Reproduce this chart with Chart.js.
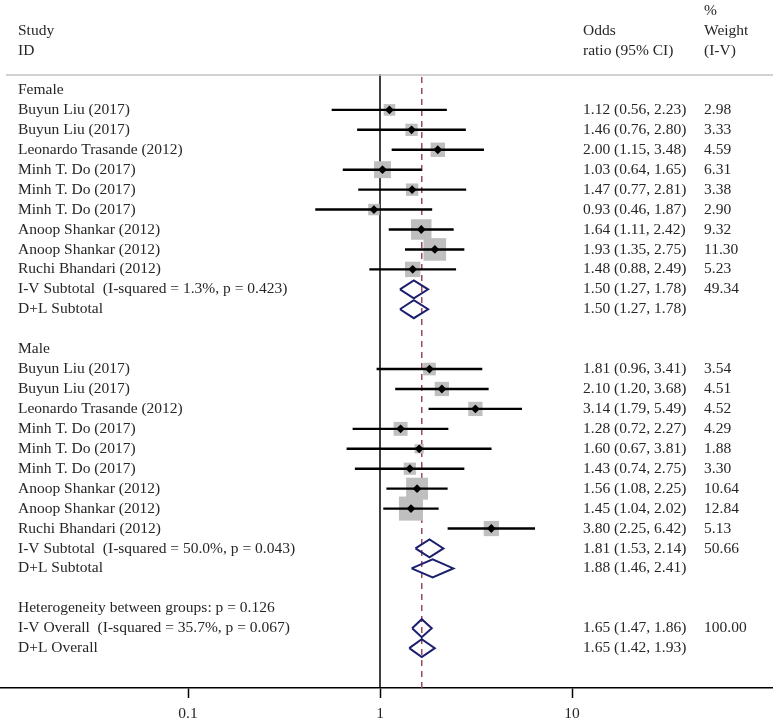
<!DOCTYPE html>
<html>
<head>
<meta charset="utf-8">
<script src="https://cdn.jsdelivr.net/npm/chart.js@4"></script>
<style>
  html, body { margin: 0; padding: 0; background: #fff; }
  canvas { display: block; }
</style>
</head>
<body>
<canvas id="forest" width="773" height="721"></canvas>
<script>
// study rows (same order in both groups)
var studyNames = ['Buyun Liu (2017)', 'Buyun Liu (2017)', 'Leonardo Trasande (2012)', 'Minh T. Do (2017)',
  'Minh T. Do (2017)', 'Minh T. Do (2017)', 'Anoop Shankar (2012)', 'Anoop Shankar (2012)', 'Ruchi Bhandari (2012)'];

var femaleOR = [1.12, 1.46, 2.00, 1.03, 1.47, 0.93, 1.64, 1.93, 1.48];
var femaleLo = [0.56, 0.76, 1.15, 0.64, 0.77, 0.46, 1.11, 1.35, 0.88];
var femaleHi = [2.23, 2.80, 3.48, 1.65, 2.81, 1.87, 2.42, 2.75, 2.49];
var femaleWt = [2.98, 3.33, 4.59, 6.31, 3.38, 2.90, 9.32, 11.30, 5.23];

var maleOR = [1.81, 2.10, 3.14, 1.28, 1.60, 1.43, 1.56, 1.45, 3.80];
var maleLo = [0.96, 1.20, 1.79, 0.72, 0.67, 0.74, 1.08, 1.04, 2.25];
var maleHi = [3.41, 3.68, 5.49, 2.27, 3.81, 2.75, 2.25, 2.02, 6.42];
var maleWt = [3.54, 4.51, 4.52, 4.29, 1.88, 3.30, 10.64, 12.84, 5.13];

// pooled estimates: female I-V, female D+L, male I-V, male D+L, overall I-V, overall D+L
var pooledLabels = ['I-V Subtotal  (I-squared = 1.3%, p = 0.423)', 'D+L Subtotal',
  'I-V Subtotal  (I-squared = 50.0%, p = 0.043)', 'D+L Subtotal',
  'I-V Overall  (I-squared = 35.7%, p = 0.067)', 'D+L Overall'];
var pooledOR = [1.50, 1.50, 1.81, 1.88, 1.65, 1.65];
var pooledLo = [1.27, 1.27, 1.53, 1.46, 1.47, 1.42];
var pooledHi = [1.78, 1.78, 2.14, 2.41, 1.86, 1.93];
var pooledWt = ['49.34', '', '50.66', '', '100.00', ''];

var groupNames = ['Female', 'Male'];
var heterogeneity = 'Heterogeneity between groups: p = 0.126';
var overallOR = 1.65;

var tickValues = [0.1, 1, 10];
var tickLabels = ['0.1', '1', '10'];

// row layout
var femaleRows = [1, 2, 3, 4, 5, 6, 7, 8, 9];
var maleRows = [14, 15, 16, 17, 18, 19, 20, 21, 22];
var pooledRows = [10, 11, 23, 24, 27, 28];
var groupRows = [0, 13];
var hetRow = 26;

var FONT = '15.5px "Liberation Serif"';
var TEXT = '#262626';
var NAVY = '#1c1f6e';

function fmt(v) { return v.toFixed(2); }

var allOR = femaleOR.concat(maleOR);
var allLo = femaleLo.concat(maleLo);
var allHi = femaleHi.concat(maleHi);
var allWt = femaleWt.concat(maleWt);
var allRows = femaleRows.concat(maleRows);

var pts = [], ciLine = [], diamonds = [];
for (var i = 0; i < allOR.length; i++) {
  pts.push({ x: allOR[i], y: allRows[i] });
  ciLine.push({ x: allLo[i], y: allRows[i] }, { x: allHi[i], y: allRows[i] }, { x: allHi[i], y: null });
}
for (var j = 0; j < pooledOR.length; j++) {
  var r = pooledRows[j];
  diamonds.push({ x: pooledLo[j], y: r }, { x: pooledOR[j], y: r - 0.45 }, { x: pooledHi[j], y: r },
    { x: pooledOR[j], y: r + 0.45 }, { x: pooledLo[j], y: r }, { x: pooledLo[j], y: null });
}

var textPlugin = {
  id: 'forest_text',
  afterDraw: function (chart) {
    var ctx = chart.ctx;
    var ys = chart.scales.y;
    var area = chart.chartArea;
    ctx.save();

    // header rule
    ctx.strokeStyle = '#c2c2c2';
    ctx.lineWidth = 1.5;
    ctx.beginPath();
    ctx.moveTo(6, area.top);
    ctx.lineTo(chart.width, area.top);
    ctx.stroke();

    ctx.font = FONT;
    ctx.fillStyle = TEXT;
    ctx.textBaseline = 'middle';
    ctx.textAlign = 'left';
    var L = 18, C = 583, W = 704;
    function row(r) { return ys.getPixelForValue(r); }

    ctx.fillText('Study', L, row(-2.95));
    ctx.fillText('ID', L, row(-1.98));
    ctx.fillText('Odds', C, row(-2.95));
    ctx.fillText('ratio (95% CI)', C, row(-1.98));
    ctx.fillText('%', W, row(-3.95));
    ctx.fillText('Weight', W, row(-2.95));
    ctx.fillText('(I-V)', W, row(-1.98));

    groupNames.forEach(function (g, k) { ctx.fillText(g, L, row(groupRows[k])); });
    for (var i = 0; i < allOR.length; i++) {
      var y = row(allRows[i]);
      ctx.fillText(studyNames[i % studyNames.length], L, y);
      ctx.fillText(fmt(allOR[i]) + ' (' + fmt(allLo[i]) + ', ' + fmt(allHi[i]) + ')', C, y);
      ctx.fillText(allWt[i].toFixed(2), W, y);
    }
    for (var j = 0; j < pooledOR.length; j++) {
      var y2 = row(pooledRows[j]);
      ctx.fillText(pooledLabels[j], L, y2);
      ctx.fillText(fmt(pooledOR[j]) + ' (' + fmt(pooledLo[j]) + ', ' + fmt(pooledHi[j]) + ')', C, y2);
      if (pooledWt[j]) ctx.fillText(pooledWt[j], W, y2);
    }
    ctx.fillText(heterogeneity, L, row(hetRow));
    ctx.restore();
  }
};

var ctx = document.getElementById('forest').getContext('2d');
new Chart(ctx, {
  type: 'scatter',
  data: {
    datasets: [
      { // centre markers
        data: pts, order: 1, pointStyle: 'rectRot', pointRadius: 4.4,
        backgroundColor: '#000', borderColor: '#000', borderWidth: 0
      },
      { // pooled diamonds
        data: diamonds, order: 1, showLine: true, spanGaps: false, pointRadius: 0,
        borderColor: NAVY, borderWidth: 2, borderJoinStyle: 'miter', fill: false, clip: false
      },
      { // confidence intervals
        data: ciLine, order: 2, showLine: true, spanGaps: false, pointRadius: 0,
        borderColor: '#000', borderWidth: 2.4, borderCapStyle: 'butt'
      },
      { // weight squares
        data: pts, order: 3, pointStyle: 'rect',
        pointRadius: function (c) { return 4.75 * Math.sqrt(allWt[c.dataIndex]); },
        backgroundColor: '#bfbfbf', borderWidth: 0
      },
      { // null line
        data: [{ x: 1, y: -0.8 }, { x: 1, y: 30 }], order: 4, showLine: true, pointRadius: 0,
        borderColor: '#000', borderWidth: 1.5, clip: false
      },
      { // overall effect line
        data: [{ x: overallOR, y: -0.65 }, { x: overallOR, y: 30 }], order: 4, showLine: true, pointRadius: 0,
        borderColor: '#9a4a58', borderWidth: 1.5, borderDash: [6, 5], clip: false
      }
    ]
  },
  options: {
    responsive: false,
    animation: false,
    events: [],
    layout: { autoPadding: false, padding: { top: 75, left: 0, right: 0, bottom: 0 } },
    plugins: { legend: { display: false }, tooltip: { enabled: false } },
    scales: {
      x: {
        type: 'logarithmic',
        min: Math.pow(10, -380 / 192),
        max: Math.pow(10, 393 / 192),
        afterBuildTicks: function (scale) {
          scale.ticks = tickValues.map(function (v) { return { value: v }; });
        },
        afterFit: function (scale) { scale.height = 33; },
        ticks: {
          autoSkip: false, maxRotation: 0, padding: 7, color: TEXT,
          font: { family: 'Liberation Serif', size: 15.5 },
          callback: function (v) { return tickLabels[tickValues.indexOf(v)]; }
        },
        grid: { drawOnChartArea: false, drawTicks: true, tickLength: 10, tickColor: '#000', tickWidth: 1.5 },
        border: { display: true, color: '#000', width: 1.5 }
      },
      y: {
        type: 'linear', reverse: true, min: -0.75, max: 30, display: false
      }
    }
  },
  plugins: [textPlugin]
});
</script>
</body>
</html>
